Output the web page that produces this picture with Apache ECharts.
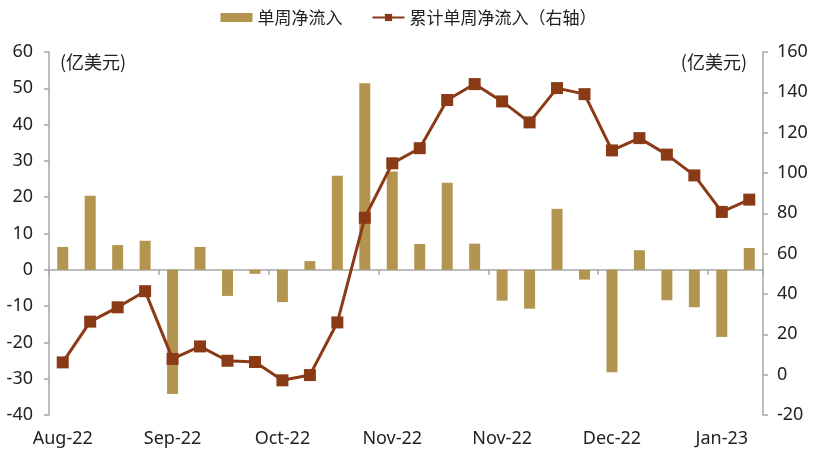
<!DOCTYPE html>
<html>
<head>
<meta charset="utf-8">
<script src="https://cdn.jsdelivr.net/npm/echarts@6/dist/echarts.min.js"></script>
<style>html,body{margin:0;padding:0;background:#fff}#c{width:817px;height:459px}</style>
</head>
<body>
<div id="c"></div>
<script>
var weeks = ['2022-08-10','2022-08-17','2022-08-24','2022-08-31','2022-09-07','2022-09-14','2022-09-21','2022-09-28','2022-10-05','2022-10-12','2022-10-19','2022-10-26','2022-11-02','2022-11-09','2022-11-16','2022-11-23','2022-11-30','2022-12-07','2022-12-14','2022-12-21','2022-12-28','2023-01-04','2023-01-11','2023-01-18','2023-01-25','2023-02-01'];
var weeklyFlow = [6.3, 20.4, 6.8, 8.0, -34.2, 6.3, -7.2, -1.1, -8.9, 2.4, 25.9, 51.4, 27.1, 7.1, 24.0, 7.2, -8.5, -10.7, 16.8, -2.7, -28.2, 5.4, -8.4, -10.3, -18.5, 6.0];
var cumulativeFlow = [6.1, 26.3, 33.4, 41.4, 7.8, 14.0, 6.9, 6.3, -2.8, -0.2, 25.9, 77.8, 104.8, 112.3, 136.2, 144.1, 135.5, 125.1, 142.1, 139.1, 111.2, 117.3, 109.1, 98.8, 80.7, 86.8];
var leftTicks = {min: -40, max: 60, interval: 10};
var rightTicks = {min: -20, max: 160, interval: 20};
var seriesNames = ['单周净流入', '累计单周净流入（右轴）'];
var unitText = '(亿美元)';
var monthNames = ['Jan','Feb','Mar','Apr','May','Jun','Jul','Aug','Sep','Oct','Nov','Dec'];
// labels shown every 4th week, as printed on the original chart
var labelMonthFix = {'2022-08-10':'Aug-22','2022-09-07':'Sep-22','2022-10-05':'Oct-22','2022-11-02':'Nov-22','2022-11-30':'Nov-22','2022-12-28':'Dec-22','2023-01-25':'Jan-23'};
function fmt(d){ if (labelMonthFix[d]) return labelMonthFix[d]; var p=d.split('-'); return monthNames[+p[1]-1]+'-'+p[0].slice(2); }

var FONT = '"Noto Sans", "Noto Sans CJK SC", sans-serif';
var CJK = '"Noto Sans CJK SC", sans-serif';
var axisGray = '#A6A6A6';
var chart = echarts.init(document.getElementById('c'));
chart.setOption({
  animation: false,
  textStyle: {fontFamily: FONT},
  legend: {
    top: 4, left: 'center', itemWidth: 32, itemHeight: 9, itemGap: 29,
    textStyle: {fontSize: 17, color: '#222', fontFamily: CJK},
    data: [{name: seriesNames[0], icon: 'rect'}, {name: seriesNames[1]}]
  },
  grid: {left: 49, right: 54, top: 52, bottom: 44},
  xAxis: [{
    type: 'category', data: weeks, boundaryGap: true,
    axisLine: {onZero: true, onZeroAxisIndex: 0, lineStyle: {color: axisGray, width: 1.5}},
    axisTick: {show: true, interval: 3, length: 5, lineStyle: {color: axisGray, width: 1.5}},
    axisLabel: {show: false}
  }, {
    type: 'category', data: weeks, boundaryGap: true, position: 'bottom',
    axisLine: {show: false}, axisTick: {show: false},
    axisLabel: {interval: 3, margin: 15, fontSize: 18, color: '#222', fontFamily: FONT, formatter: fmt}
  }],
  yAxis: [{
    type: 'value', min: leftTicks.min, max: leftTicks.max, interval: leftTicks.interval,
    splitLine: {show: false},
    axisLine: {show: true, lineStyle: {color: axisGray, width: 1.5}},
    axisTick: {show: true, length: 5, lineStyle: {color: axisGray, width: 1.5}},
    axisLabel: {fontSize: 18, color: '#222', margin: 16, fontFamily: FONT}
  }, {
    type: 'value', min: rightTicks.min, max: rightTicks.max, interval: rightTicks.interval,
    splitLine: {show: false},
    axisLine: {show: true, lineStyle: {color: axisGray, width: 1.5}},
    axisTick: {show: true, length: 5, lineStyle: {color: axisGray, width: 1.5}},
    axisLabel: {fontSize: 18, color: '#222', margin: 14, fontFamily: FONT}
  }],
  graphic: [
    {type: 'text', left: 60, top: 53, style: {text: unitText, fontSize: 18, fill: '#222', fontFamily: CJK}},
    {type: 'text', right: 70, top: 53, style: {text: unitText, fontSize: 18, fill: '#222', fontFamily: CJK}}
  ],
  series: [{
    name: seriesNames[0], type: 'bar', xAxisIndex: 0, yAxisIndex: 0,
    data: weeklyFlow, barWidth: 11, itemStyle: {color: '#B3954F'}
  }, {
    name: seriesNames[1], type: 'line', xAxisIndex: 0, yAxisIndex: 1,
    data: cumulativeFlow, symbol: 'rect', symbolSize: 12,
    lineStyle: {color: '#8B3A16', width: 3}, itemStyle: {color: '#8B3A16'}
  }]
});
</script>
</body>
</html>
